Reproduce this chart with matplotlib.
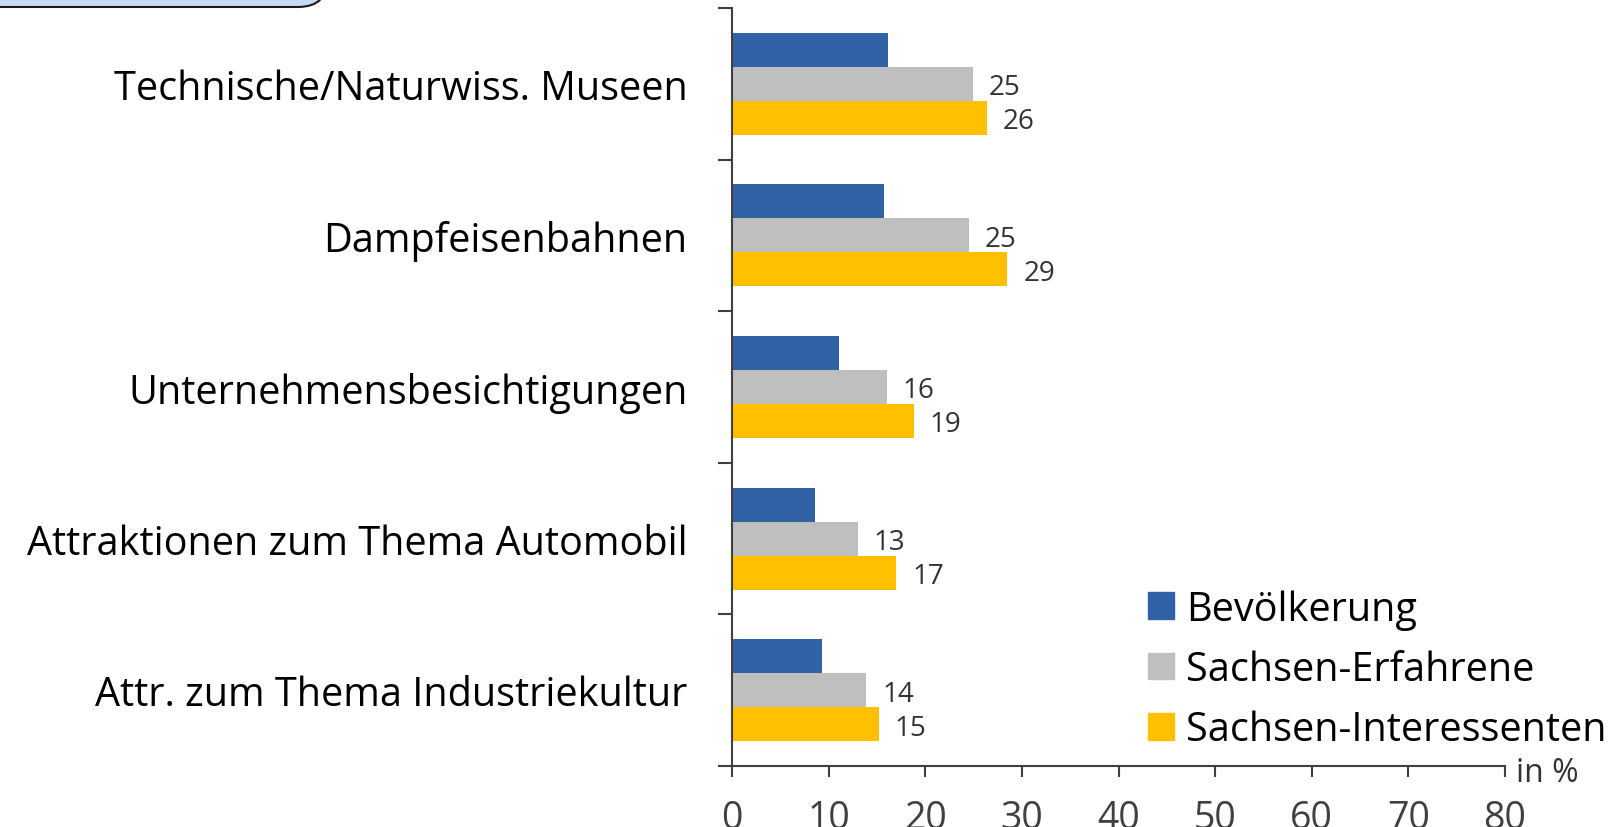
import matplotlib
matplotlib.use("Agg")
import matplotlib.pyplot as plt
import numpy as np
from matplotlib.patches import FancyBboxPatch, Patch

plt.rcParams['font.family'] = ['Open Sans', 'DejaVu Sans']

categories = ["Technische/Naturwiss. Museen", "Dampfeisenbahnen",
              "Unternehmensbesichtigungen", "Attraktionen zum Thema Automobil",
              "Attr. zum Thema Industriekultur"]
series_names = ["Bevölkerung", "Sachsen-Erfahrene", "Sachsen-Interessenten"]
bevoelkerung = [16.1, 15.7, 11.1, 8.6, 9.3]
erfahrene = [25, 25, 16, 13, 14]
interessenten = [26, 29, 19, 17, 15]
erfahrene_pos = [24.9, 24.5, 16.0, 13.0, 13.9]
interessenten_pos = [26.4, 28.5, 18.8, 17.0, 15.2]
xticks = [0, 10, 20, 30, 40, 50, 60, 70, 80]
colors = ["#3162A6", "#BFBFBF", "#FFC000"]

fig = plt.figure(figsize=(16.22, 8.28), dpi=100)
ax = fig.add_axes([0.4513, 0.0737, 0.4766, 0.9154])

y = np.arange(len(categories))
h = 0.224
ax.barh(y - h, bevoelkerung, height=h, color=colors[0], label=series_names[0])
ax.barh(y, erfahrene_pos, height=h, color=colors[1], label=series_names[1])
ax.barh(y + h, interessenten_pos, height=h, color=colors[2], label=series_names[2])

for i in range(len(categories)):
    ax.annotate(str(erfahrene[i]), (erfahrene_pos[i], y[i]), xytext=(11.5, -2.5),
                textcoords='offset points', va='center', ha='left',
                fontsize=20, color='#333333')
    ax.annotate(str(interessenten[i]), (interessenten_pos[i], y[i] + h), xytext=(11.5, -2.5),
                textcoords='offset points', va='center', ha='left',
                fontsize=20, color='#333333')

ax.set_xlim(0, 80)
ax.set_ylim(len(categories) - 0.5, -0.5)
ax.set_xticks(xticks)
ax.set_xticklabels([str(t) for t in xticks], fontsize=27, color='#404040')
ax.set_yticks(np.arange(len(categories) + 1) - 0.5)
ax.set_yticklabels([])
ax.set_yticks(y, minor=True)
ax.set_yticklabels(categories, minor=True, fontsize=28.5, color='black')
ax.tick_params(axis='y', which='major', length=10, width=1.5, color='#404040', direction='out')
ax.tick_params(axis='y', which='minor', length=0, pad=32)
ax.tick_params(axis='x', length=8, width=1.5, color='#404040', direction='out', pad=16)

for s in ['top', 'right']:
    ax.spines[s].set_visible(False)
for s in ['left', 'bottom']:
    ax.spines[s].set_color('#404040')
    ax.spines[s].set_linewidth(1.5)

ax.text(1.014, -0.009, "in %", transform=ax.transAxes, fontsize=23, color='#333333',
        ha='left', va='center')

handles = [Patch(color=c) for c in colors]
fig.legend(handles, series_names, loc='upper left', bbox_to_anchor=(0.7078, 0.2874),
           frameon=False, fontsize=28.5, handlelength=0.66, handleheight=0.66,
           handletextpad=0.3, labelspacing=0.5, borderaxespad=0, borderpad=0)

box = FancyBboxPatch((-0.5, 8.20), 3.78, 1.0, boxstyle="round,pad=0,rounding_size=0.3",
                     transform=fig.dpi_scale_trans, facecolor='#C6D9F0',
                     edgecolor='#1a1a1a', linewidth=1.5, clip_on=False)
fig.patches.append(box)

fig.savefig("out.png", dpi=100)
